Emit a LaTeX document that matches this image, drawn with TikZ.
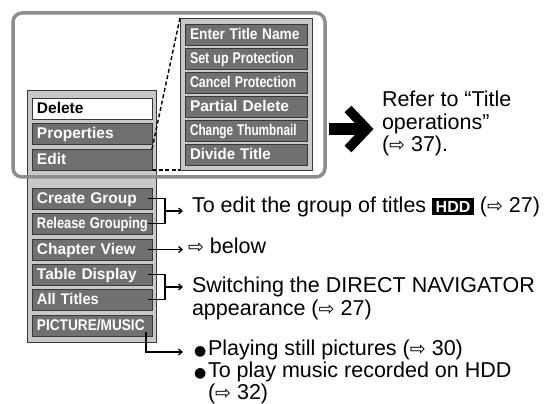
\documentclass[tikz,border=0pt]{standalone}
\usepackage{fontspec}
\setmainfont{Liberation Sans}
\newfontfamily\symfont{DejaVu Sans}
\usepackage{graphicx}
\usetikzlibrary{arrows.meta,calc}
\definecolor{btnfill}{HTML}{707070}
\definecolor{btnedge}{HTML}{383838}
\definecolor{panelfill}{HTML}{C8C8C8}
\definecolor{framegray}{HTML}{8C8C8C}
\newcommand{\sq}[2]{\scalebox{#1}[1]{#2}}
\newcommand{\ra}{{\symfont\fontsize{19}{19}\selectfont ⇨}}
\newcommand{\blt}{\makebox[14pt][l]{\symfont\fontsize{14}{14}\selectfont ●}}
\newcommand{\hddbadge}{{\setlength{\fboxsep}{0pt}\colorbox{black}{\rule[-2pt]{0pt}{17pt}\hspace{3.5pt}\textcolor{white}{\fontsize{16}{16}\selectfont\bfseries HDD}\hspace{3.5pt}}}}
\tikzset{
  every node/.style={outer sep=0pt},
  btn/.style={draw=btnedge, fill=btnfill, line width=0.9pt, anchor=north west,
    minimum height=21pt, inner xsep=5pt, inner ysep=0pt, text width=110pt,
    align=left, text height=12pt, text depth=1.5pt, text=white,
    font=\fontsize{15.5}{16}\selectfont\bfseries},
  btnsel/.style={btn, fill=white, text=black},
  subbtn/.style={btn, text width=112pt},
  panel/.style={draw=btnedge, fill=panelfill, line width=0.9pt, anchor=north west, inner sep=0pt},
  frame/.style={draw=framegray, line width=3.5pt, rounded corners=9pt, anchor=north west, inner sep=0pt},
  zoomline/.style={draw=black, line width=1.4pt, dash pattern=on 4pt off 2.5pt},
  txt/.style={anchor=base west, inner sep=0pt, align=left, font=\fontsize{21.5}{22.5}\selectfont},
  conn/.style={draw=black, line width=1.3pt},
  arr/.style={conn, -{Straight Barb[length=3.5pt,width=6pt]}},
}
\begin{document}
\begin{tikzpicture}[x=1pt,y=-1pt]
\useasboundingbox (0,0) rectangle (550,404);
% left menu
\node[panel, minimum width=129pt, minimum height=252pt] (lpanel) at (27,90) {};
\node[btnsel] (del) at (32,98) {Delete};
\node[btn] (prop) at (32,123) {Properties};
\node[btn] (edit) at (32,149) {Edit};
\node[btn] (cg) at (32,188) {Create Group};
\node[btn] (rg) at (32,213) {\sq{0.83}{Release Grouping}};
\node[btn] (cv) at (32,239) {Chapter View};
\node[btn] (td) at (32,264) {Table Display};
\node[btn] (at) at (32,289) {\sq{0.95}{All Titles}};
\node[btn] (pm) at (32,315) {\sq{0.88}{PICTURE/MUSIC}};
% submenu
\node[panel, minimum width=132pt, minimum height=152pt] (rpanel) at (180,18) {};
\node[subbtn] (etn) at (185,24) {\sq{0.885}{Enter Title Name}};
\node[subbtn] (sup) at (185,48) {\sq{0.8}{Set up Protection}};
\node[subbtn] (cp) at (185,72) {\sq{0.8}{Cancel Protection}};
\node[subbtn] (pd) at (185,96) {Partial Delete};
\node[subbtn] (ct) at (185,120) {\sq{0.76}{Change Thumbnail}};
\node[subbtn] (dt) at (185,144) {\sq{0.97}{Divide Title}};
% zoom lines
\draw[zoomline] (rpanel.north west) -- (edit.north east);
\draw[zoomline] (edit.south east) -- (rpanel.south west);
% frame
\node[frame, minimum width=312pt, minimum height=164pt] (frm) at (13,13) {};
% big arrow
\fill (329,123) rectangle (360,135);
\draw[line width=9.5pt, line join=miter, miter limit=10] (348,109) -- (367,129) -- (348,149);
% texts (base = last line)
\node[txt] (refer) at (382,152) {Refer to “Title\\operations”\\(\ra{} 37).};
\node[txt] (edittxt) at (192,213) {To edit the group of titles \hddbadge{} (\ra{} 27)};
\node[txt] (below) at (188,253) {\ra{} below};
\node[txt] (switch) at (192,315) {Switching the DIRECT NAVIGATOR\\appearance (\ra{} 27)};
\node[txt, font=\fontsize{21.5}{22}\selectfont] (pics) at (194,399) {\blt Playing still pictures (\ra{} 30)\\\blt To play music recorded on HDD\\\hspace*{14pt}(\ra{} 32)};
% connectors
\coordinate (t1) at (183,211);
\coordinate (t2) at (183,249.5);
\coordinate (t3) at (183,287);
\coordinate (t4) at (183,352);
\draw[conn] ([xshift=-4pt]cg.east) -| ([xshift=13pt]rg.east) -- ([xshift=-4pt]rg.east);
\draw[arr] ([xshift=13pt]$(cg.east)!.5!(rg.east)$) -- (t1);
\draw[arr] ([xshift=-4pt]cv.east) -- (t2);
\draw[conn] ([xshift=-4pt]td.east) -| ([xshift=13pt]at.east) -- ([xshift=-4pt]at.east);
\draw[arr] ([xshift=13pt]$(td.east)!.5!(at.east)$) -- (t3);
\draw[arr] ([xshift=-6pt,yshift=4pt]pm.south east) |- (t4);
\end{tikzpicture}
\end{document}
